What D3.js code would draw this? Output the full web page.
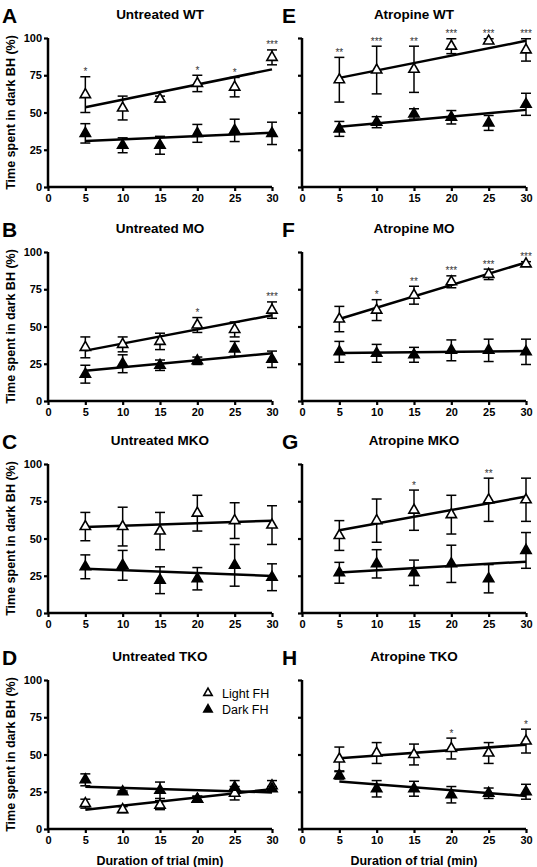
<!DOCTYPE html>
<html><head><meta charset="utf-8">
<script src="https://cdn.jsdelivr.net/npm/d3@7"></script>
<style>
body{margin:0;background:#fff;}
svg{display:block;font-family:"Liberation Sans",Arial,sans-serif;}
</style></head><body>
<script>
const xValues = [5, 10, 15, 20, 25, 30];
const xTicks = [0, 5, 10, 15, 20, 25, 30];
const yTicks = [0, 25, 50, 75, 100];
const panelLetters = ["A","B","C","D","E","F","G","H"];
const panelTitles = ["Untreated WT","Untreated MO","Untreated MKO","Untreated TKO","Atropine WT","Atropine MO","Atropine MKO","Atropine TKO"];
// Light FH means and SEM
const lightMean = [
  [62, 53, 59, 69.5, 67, 87],
  [36, 38, 40, 51, 48, 61],
  [58, 58, 55, 67, 62, 59],
  [17, 13, 16, 20, 24, 29],
  [72, 78.5, 79, 94.5, 98, 92],
  [55, 61, 71, 80, 85, 92],
  [52, 62, 69, 66, 76, 76],
  [47, 51, 50, 54, 51, 59]
];
const lightErr = [
  [12, 8, 2, 5.5, 6.5, 5],
  [7, 5, 5.5, 5, 5, 5.5],
  [9.5, 13, 12.5, 12, 12, 13],
  [3, 2, 3, 2, 4.5, 3.5],
  [15, 16, 15.5, 5, 1.5, 7.5],
  [8.5, 7, 6, 4, 3.5, 1.5],
  [10, 14.5, 13.5, 13, 14.5, 14.5],
  [8, 7, 7, 7, 7, 8]
];
const darkMean = [
  [36, 28, 28, 36, 38, 36],
  [18, 25, 24, 27, 35, 28],
  [31, 32, 22, 23, 32, 24],
  [33, 25, 26, 20, 28, 27],
  [39, 43.5, 49, 46.8, 43, 55.5],
  [33, 32, 31, 34, 34, 33],
  [27, 33, 27, 33, 23, 42],
  [36, 27, 27, 23, 24, 25]
];
const darkErr = [
  [6.5, 5, 6, 6, 7.5, 7.5],
  [6, 6, 3.5, 2.5, 5, 5.5],
  [8, 10, 9, 7.5, 14, 9],
  [4, 0.5, 5.5, 2, 4.5, 1.5],
  [5, 3.7, 3.5, 4.5, 5, 7.4],
  [7, 6, 5, 7, 7.5, 8.5],
  [7, 9.5, 8.5, 12.5, 9.5, 12],
  [2.5, 5.5, 5, 5.5, 3.5, 5]
];
const stars = [
  ["*", "", "", "*", "*", "***"],
  ["", "", "", "*", "", "***"],
  ["", "", "", "", "", ""],
  ["", "", "", "", "", ""],
  ["**", "***", "**", "***", "***", "***"],
  ["", "*", "**", "***", "***", "***"],
  ["", "", "*", "", "**", ""],
  ["", "", "", "*", "", "*"]
];
const legendLabels = ["Light FH", "Dark FH"];
const yLabel = "Time spent in dark BH (%)";
const xLabel = "Duration of trial (min)";

const W = 537, H = 867;
const svg = d3.select("body").append("svg").attr("width", W).attr("height", H);

const colX = [48, 302];
const rowY = [38, 252, 464, 680];
const pw = 224, ph = 149;

function regress(xs, ys) {
  const mx = d3.mean(xs), my = d3.mean(ys);
  let sxy = 0, sxx = 0;
  xs.forEach((x, i) => { sxy += (x - mx) * (ys[i] - my); sxx += (x - mx) ** 2; });
  const b = sxy / sxx;
  return x => my + b * (x - mx);
}

const triUp = d3.symbol().type(d3.symbolTriangle).size(46);
const triLeg = d3.symbol().type(d3.symbolTriangle).size(30);

for (let p = 0; p < 8; p++) {
  const col = Math.floor(p / 4), row = p % 4;
  const ox = colX[col], oy = rowY[row];
  const g = svg.append("g").attr("transform", `translate(${ox},${oy})`);
  const x = d3.scaleLinear().domain([0, 30]).range([0, pw]);
  const y = d3.scaleLinear().domain([0, 100]).range([ph, 0]);

  const ya = d3.axisLeft(y).tickValues(yTicks).tickSize(4).tickPadding(2);
  if (col === 1) ya.tickFormat("");
  const yg = g.append("g").call(ya);
  const xa = d3.axisBottom(x).tickValues(xTicks).tickSize(4).tickPadding(3);
  const xg = g.append("g").attr("transform", `translate(0,${ph})`).call(xa);
  [yg, xg].forEach(a => {
    a.select(".domain").attr("stroke", "#000").attr("stroke-width", 2.5);
    a.selectAll(".tick line").attr("stroke", "#000").attr("stroke-width", 2.2);
    a.selectAll(".tick text").attr("fill", "#000").style("font-size", "11px").style("font-weight", "bold")
      .style("font-family", '"Liberation Sans",Arial,sans-serif');
  });
  yg.select(".domain").attr("d", `M-0,${ph}V0`);
  xg.select(".domain").attr("d", `M0,0H${pw}`);

  svg.append("text").attr("x", ox + 112).attr("y", oy - 19).attr("text-anchor", "middle")
    .style("font-size", "13.5px").style("font-weight", "bold").text(panelTitles[p]);
  svg.append("text").attr("x", col === 0 ? 2 : 282).attr("y", oy - 15)
    .style("font-size", "21px").style("font-weight", "bold").text(panelLetters[p]);

  if (col === 0) {
    svg.append("text").attr("transform", `translate(15,${oy + ph / 2}) rotate(-90)`)
      .attr("text-anchor", "middle").style("font-size", "12.5px").style("font-weight", "bold").text(yLabel);
  }
  if (row === 3) {
    svg.append("text").attr("x", ox + 112).attr("y", oy + ph + 36).attr("text-anchor", "middle")
      .style("font-size", "12.5px").style("font-weight", "bold").text(xLabel);
  }

  const series = [
    {m: lightMean[p], e: lightErr[p], fill: "#fff"},
    {m: darkMean[p], e: darkErr[p], fill: "#000"}
  ];
  series.forEach(s => {
    const fit = regress(xValues, s.m);
    g.append("line").attr("x1", x(5)).attr("x2", x(30)).attr("y1", y(fit(5))).attr("y2", y(fit(30)))
      .attr("stroke", "#000").attr("stroke-width", 2.5);
    const eb = g.append("g");
    xValues.forEach((xv, i) => {
      const top = y(s.m[i] + s.e[i]), bot = y(s.m[i] - s.e[i]), cx = x(xv);
      eb.append("line").attr("x1", cx).attr("x2", cx).attr("y1", top).attr("y2", bot).attr("stroke", "#000").attr("stroke-width", 1.5);
      eb.append("line").attr("x1", cx - 5).attr("x2", cx + 5).attr("y1", top).attr("y2", top).attr("stroke", "#000").attr("stroke-width", 1.5);
      eb.append("line").attr("x1", cx - 5).attr("x2", cx + 5).attr("y1", bot).attr("y2", bot).attr("stroke", "#000").attr("stroke-width", 1.5);
    });
  });
  series.forEach(s => {
    g.selectAll(null).data(xValues).enter().append("path")
      .attr("d", triUp).attr("transform", (d, i) => `translate(${x(d)},${y(s.m[i])})`)
      .attr("fill", s.fill).attr("stroke", "#000").attr("stroke-width", 1.6);
  });
  xValues.forEach((xv, i) => {
    if (!stars[p][i]) return;
    g.append("text").attr("x", x(xv)).attr("y", y(lightMean[p][i] + lightErr[p][i]) - 1.5)
      .attr("text-anchor", "middle").attr("fill", "#333").style("font-size", "10px").text(stars[p][i]);
  });

  if (p === 3) {
    const lg = svg.append("g");
    legendLabels.forEach((lab, i) => {
      const ly = 693 + i * 16.5;
      lg.append("path").attr("d", triLeg).attr("transform", `translate(208,${ly})`)
        .attr("fill", i === 0 ? "#fff" : "#000").attr("stroke", "#000").attr("stroke-width", 1.6);
      lg.append("text").attr("x", 222).attr("y", ly + 4.5).style("font-size", "12.5px").text(lab);
    });
  }
}
</script>
</body></html>
